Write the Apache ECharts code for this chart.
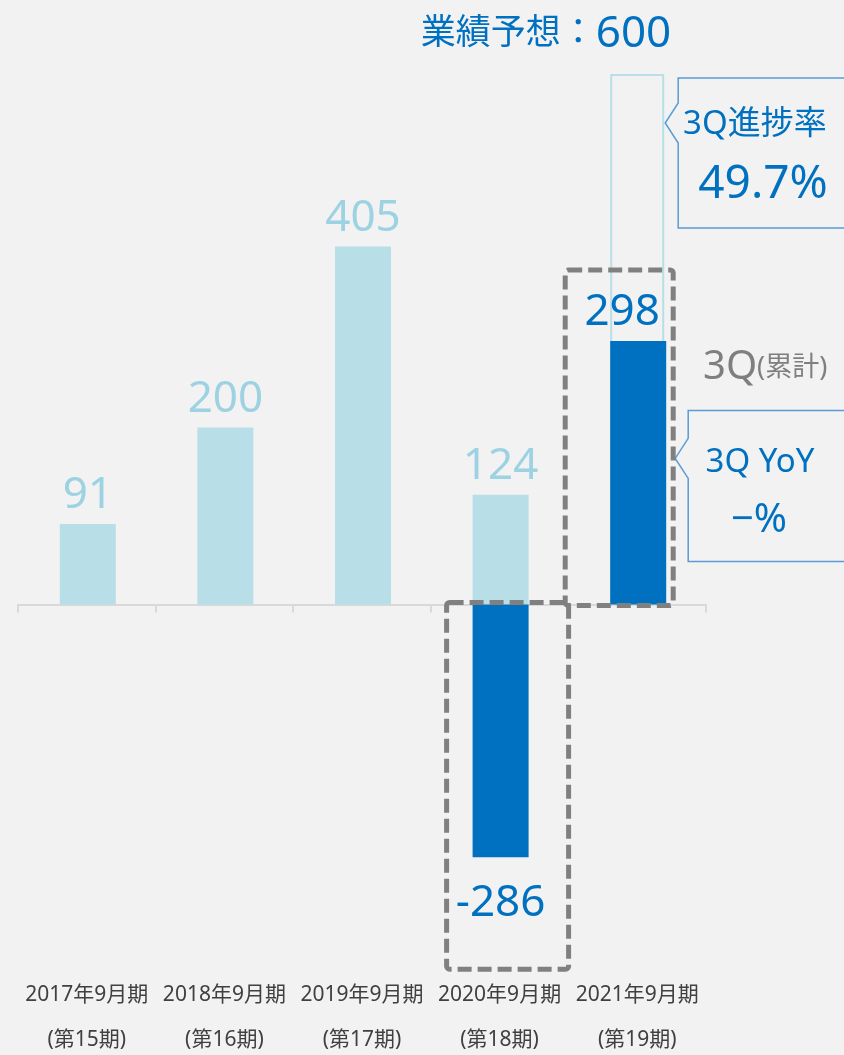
<!DOCTYPE html>
<html><head><meta charset="utf-8">
<script src="https://cdn.jsdelivr.net/npm/echarts@6/dist/echarts.min.js"></script>
<style>html,body{margin:0;padding:0;background:#f2f2f2;}#c{width:844px;height:1055px;}</style>
</head><body><div id="c"></div>
<script>
const categories = ['2017年9月期', '2018年9月期', '2019年9月期', '2020年9月期', '2021年9月期'];
const periods = ['(第15期)', '(第16期)', '(第17期)', '(第18期)', '(第19期)'];
const fullYear = [91, 200, 405, 124, null];
const cumulative3Q = [null, null, null, -286, 298];
const forecast = [null, null, null, null, 600];
const forecastTitle = '業績予想';
const forecastValue = '600';
const progressLabel = '3Q進捗率';
const progressValue = '49.7%';
const yoyLabel = '3Q YoY';
const yoyValue = '−%';

const FONT = '"Noto Sans", "Noto Sans CJK JP", sans-serif';
const chart = echarts.init(document.getElementById('c'));

const darkData = cumulative3Q.map(v => v === null ? null : (v < 0 ? {value: v, label: {position: 'bottom', distance: 24}} : {value: v, label: {position: 'top', offset: [-16, 0]}}));

chart.setOption({
  backgroundColor: '#f2f2f2',
  animation: false,
  grid: {left: 18, right: 138, top: 74, height: 884, outerBoundsMode: 'none', containLabel: false},
  xAxis: [{
    type: 'category', data: categories,
    axisLine: {onZero: true, lineStyle: {color: '#d9d9d9', width: 2}},
    axisTick: {show: true, length: 8, lineStyle: {color: '#d9d9d9', width: 2}},
    axisLabel: {show: false}
  }, {
    type: 'category', data: categories, position: 'bottom',
    axisLine: {show: false, onZero: false}, axisTick: {show: false},
    axisLabel: {
      margin: 15, interval: 0, color: '#404040', fontFamily: FONT, fontSize: 21, lineHeight: 45,
      formatter: (v, i) => v + '\n' + periods[i]
    }
  }],
  yAxis: {type: 'value', min: -400, max: 600, show: false, splitLine: {show: false}},
  series: [{
    type: 'bar', name: '通期', data: fullYear, stack: 'a', barWidth: 56, barGap: '-100%',
    itemStyle: {color: '#b8dee8'},
    label: {show: true, position: 'top', distance: 6, color: '#9dd2e2', fontSize: 44, fontFamily: FONT}
  }, {
    type: 'bar', name: '3Q累計', data: darkData, stack: 'a', barWidth: 56, barGap: '-100%',
    itemStyle: {color: '#0070c0'},
    label: {show: true, distance: 6, color: '#0070c0', fontSize: 44, fontFamily: FONT}
  }, {
    type: 'bar', name: '業績予想', data: forecast, barWidth: 54, barGap: '-100%', z: 1,
    itemStyle: {color: 'rgba(0,0,0,0)', borderColor: '#b8dee8', borderWidth: 2}
  }]
});

function addGraphics() {
  const cx4 = chart.convertToPixel({xAxisIndex: 0}, categories[3]);
  const cx5 = chart.convertToPixel({xAxisIndex: 0}, categories[4]);
  const y0 = chart.convertToPixel({yAxisIndex: 0}, 0);
  const yNeg = chart.convertToPixel({yAxisIndex: 0}, cumulative3Q[3]);
  const yPos = chart.convertToPixel({yAxisIndex: 0}, cumulative3Q[4]);
  const yFc = chart.convertToPixel({yAxisIndex: 0}, forecast[4]);
  const dash = {stroke: '#808080', lineWidth: 5, lineDash: [14, 6], fill: null};
  const calloutStroke = {stroke: '#5b9bd5', lineWidth: 1.5, fill: null};
  const bx1 = cx5 + 41, by1 = yFc + 4;   // progress callout
  const bx2 = cx5 + 51, by2 = y0 - 194;  // YoY callout
  function callout(x, y, w, h, py) {
    return [[x + w, y], [x, y], [x, py - 20], [x - 13, py], [x, py + 20], [x, y + h], [x + w, y + h]];
  }
  chart.setOption({
    graphic: [
      {type: 'rect', shape: {x: cx4 - 53, y: y0 - 2, width: 122, height: (yNeg - y0) + 114, r: 3}, style: dash, z: 10},
      {type: 'rect', shape: {x: cx5 - 72, y: yPos - 71, width: 108, height: (y0 - yPos) + 72, r: 3}, style: dash, z: 10},
      {type: 'polyline', shape: {points: callout(bx1, by1, 200, 150, by1 + 45)}, style: calloutStroke, z: 5},
      {type: 'text', x: 683, y: by1 + 47, style: {text: progressLabel, fill: '#0070c0', font: '33px ' + FONT, verticalAlign: 'middle'}},
      {type: 'text', x: 763, y: by1 + 107, style: {text: progressValue, fill: '#0070c0', font: '46px ' + FONT, verticalAlign: 'middle', align: 'center'}},
      {type: 'polyline', shape: {points: callout(bx2, by2, 200, 151, by2 + 48)}, style: calloutStroke, z: 5},
      {type: 'text', x: 760, y: by2 + 52, style: {text: yoyLabel, fill: '#0070c0', font: '33px ' + FONT, verticalAlign: 'middle', align: 'center'}},
      {type: 'text', x: 759, y: by2 + 110, style: {text: yoyValue, fill: '#0070c0', font: '40px ' + FONT, verticalAlign: 'middle', align: 'center'}},
      {type: 'text', x: 703, y: 368, style: {
        text: '{a|3Q}{b|(累計)}', verticalAlign: 'middle',
        rich: {a: {fontSize: 40, fill: '#7f7f7f', fontFamily: FONT}, b: {fontSize: 27, fill: '#7f7f7f', fontFamily: FONT}}
      }},
      {type: 'text', x: 546, y: 34, style: {
        text: '{a|' + forecastTitle + '：}{b|' + forecastValue + '}', align: 'center', verticalAlign: 'middle',
        rich: {a: {fontSize: 35, fill: '#0070c0', fontFamily: FONT}, b: {fontSize: 44, fill: '#0070c0', fontFamily: FONT}}
      }}
    ]
  });
}
addGraphics();
</script>
</body></html>
